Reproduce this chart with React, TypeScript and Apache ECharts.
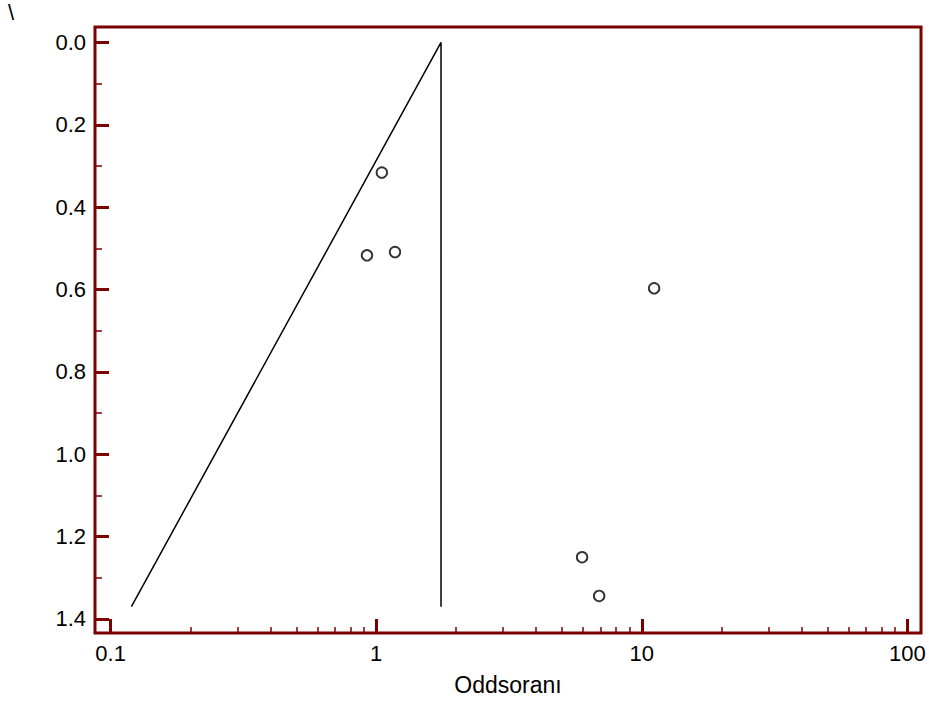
import React, { useEffect, useRef } from "react";
import * as echarts from "echarts";

// Study points: odds ratio (x, log scale) and standard error (y, inverted)
const studyOddsRatios = [1.05, 0.923, 1.177, 11.13, 5.96, 6.91];
const studyStdErrors = [0.316, 0.517, 0.509, 0.597, 1.25, 1.344];

// Funnel outline: left limit, apex, vertical line down from apex
const funnelOddsRatios = [0.1197, 1.754, 1.754];
const funnelStdErrors = [1.37, 0, 1.37];

// Axis ticks
const yMajorTicks = [0, 0.2, 0.4, 0.6, 0.8, 1.0, 1.2, 1.4];
const yMinorTicks = [0.1, 0.3, 0.5, 0.7, 0.9, 1.1, 1.3];
const xMinorTicks = [
  0.2, 0.3, 0.4, 0.5, 0.6, 0.7, 0.8, 0.9,
  2, 3, 4, 5, 6, 7, 8, 9,
  20, 30, 40, 50, 60, 70, 80, 90,
];
const xRange = [0.0873, 112.6];
const yRange = [-0.0375, 1.434];
const xAxisTitle = "Oddsoranı";
const cornerMark = "\\";

const FRAME = "#7b0000";
const FONT = "'Liberation Sans', Arial, sans-serif";

export default function App() {
  const ref = useRef<HTMLDivElement>(null);

  useEffect(() => {
    if (!ref.current) return;
    const chart = echarts.init(ref.current, undefined, { renderer: "svg" });

    const points = studyOddsRatios.map((or, i) => [or, studyStdErrors[i]]);
    const funnel = funnelOddsRatios.map((or, i) => [or, funnelStdErrors[i]]);

    chart.setOption({
      animation: false,
      backgroundColor: "#ffffff",
      textStyle: { fontFamily: FONT },
      graphic: [
        {
          type: "text",
          left: 8,
          top: 1,
          style: { text: cornerMark, fontSize: 22, fontFamily: FONT, fill: "#000" },
        },
      ],
      grid: {
        left: 95,
        top: 27,
        right: 8,
        bottom: 66,
        show: true,
        borderColor: FRAME,
        borderWidth: 3,
        backgroundColor: "transparent",
        containLabel: false,
      },
      xAxis: [
        {
          type: "log",
          logBase: 10,
          min: xRange[0],
          max: xRange[1],
          position: "bottom",
          name: xAxisTitle,
          nameLocation: "middle",
          nameGap: 40,
          nameTextStyle: { fontSize: 23, color: "#000", fontFamily: FONT },
          axisLine: { show: false, onZero: false },
          axisTick: {
            show: true,
            inside: true,
            length: 14,
            lineStyle: { color: FRAME, width: 3 },
          },
          axisLabel: {
            show: true,
            showMinLabel: false,
            showMaxLabel: false,
            margin: 9,
            fontSize: 22,
            color: "#000",
            fontFamily: FONT,
            formatter: (v: number) => String(+v.toPrecision(3)),
          },
          splitLine: { show: false },
          minorTick: { show: false },
        },
        {
          type: "value",
          min: Math.log10(xRange[0]),
          max: Math.log10(xRange[1]),
          position: "bottom",
          offset: 0,
          axisLine: { show: false, onZero: false },
          axisTick: {
            show: true,
            inside: true,
            length: 6,
            customValues: xMinorTicks.map((v) => Math.log10(v)),
            lineStyle: { color: FRAME, width: 1.5 },
          },
          axisLabel: { show: false },
          splitLine: { show: false },
        },
      ],
      yAxis: [
        {
          type: "value",
          inverse: true,
          min: yRange[0],
          max: yRange[1],
          position: "left",
          axisLine: { show: false, onZero: false },
          axisTick: {
            show: true,
            inside: true,
            length: 14,
            customValues: yMajorTicks,
            lineStyle: { color: FRAME, width: 3 },
          },
          axisLabel: {
            show: true,
            customValues: yMajorTicks,
            margin: 9,
            fontSize: 22,
            color: "#000",
            fontFamily: FONT,
            formatter: (v: number) => v.toFixed(1),
          },
          splitLine: { show: false },
        },
        {
          type: "value",
          inverse: true,
          min: yRange[0],
          max: yRange[1],
          position: "left",
          offset: 0,
          axisLine: { show: false, onZero: false },
          axisTick: {
            show: true,
            inside: true,
            length: 7,
            customValues: yMinorTicks,
            lineStyle: { color: FRAME, width: 1.5 },
          },
          axisLabel: { show: false },
          splitLine: { show: false },
        },
      ],
      series: [
        {
          type: "line",
          xAxisIndex: 0,
          yAxisIndex: 0,
          data: funnel,
          showSymbol: false,
          symbol: "none",
          lineStyle: { color: "#000", width: 1.5 },
          silent: true,
        },
        {
          type: "scatter",
          xAxisIndex: 0,
          yAxisIndex: 0,
          data: points,
          symbol: "circle",
          symbolSize: 10.5,
          itemStyle: { color: "#ffffff", borderColor: "#000", borderWidth: 1.9 },
        },
      ],
    });

    return () => chart.dispose();
  }, []);

  return (
    <div
      ref={ref}
      style={{ position: "fixed", left: 0, top: 0, width: 929, height: 701 }}
    />
  );
}
